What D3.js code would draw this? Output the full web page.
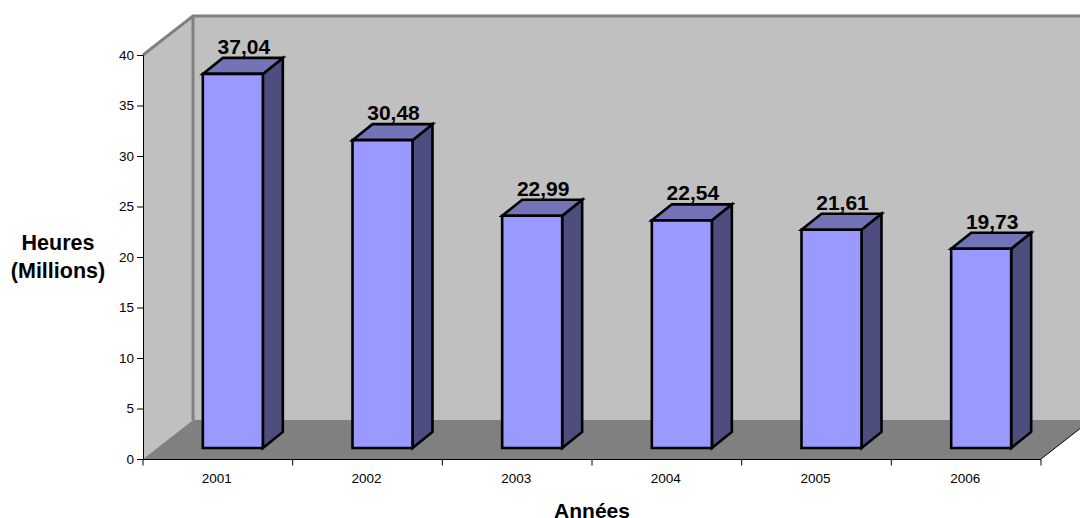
<!DOCTYPE html>
<html>
<head>
<meta charset="utf-8">
<script src="https://cdn.jsdelivr.net/npm/d3@7"></script>
<style>
html,body{margin:0;padding:0;background:#fff;overflow:hidden}
svg{display:block;font-family:"Liberation Sans",Arial,sans-serif}
</style>
</head>
<body>
<svg id="chart" width="1080" height="518"></svg>
<script>
const years = ["2001","2002","2003","2004","2005","2006"];
const hours = [37.04,30.48,22.99,22.54,21.61,19.73];
const hourLabels = ["37,04","30,48","22,99","22,54","21,61","19,73"];
const yTicks = [0,5,10,15,20,25,30,35,40];

const svg = d3.select("#chart");
const plot = {left:143, right:1041, top:55, bottom:459};
const wallDepth = {x:50, y:39};
const barDepth = {x:20, y:16};

const x = d3.scaleBand().domain(years).range([plot.left, plot.right]);
const y = d3.scaleLinear().domain([0,40]).range([plot.bottom, plot.top]);
const barWidth = 60, barShift = 15, barBase = 11;
const path = pts => "M" + pts.map(p => p.join(",")).join("L") + "Z";

// Back wall, side wall and floor of the 3D box
const g = svg.append("g");
const backX = plot.left + wallDepth.x, backTop = plot.top - wallDepth.y, backBottom = plot.bottom - wallDepth.y;
g.append("rect").attr("x",backX).attr("y",backTop).attr("width",1080-backX).attr("height",backBottom-backTop).attr("fill","#c0c0c0");
g.append("path").attr("d",path([[plot.left,plot.top],[backX,backTop],[backX,backBottom],[plot.left,plot.bottom]])).attr("fill","#c0c0c0");
g.append("path").attr("d",path([[plot.left,plot.bottom],[backX,backBottom],[plot.right+wallDepth.x,backBottom],[plot.right,plot.bottom]])).attr("fill","#808080");
g.append("path").attr("d",`M${plot.left},${plot.top}L${backX},${backTop}L1080,${backTop}M${backX},${backTop}V${backBottom}`)
  .attr("fill","none").attr("stroke","#808080").attr("stroke-width",3);
g.append("line").attr("x1",plot.right).attr("y1",plot.bottom).attr("x2",plot.right+wallDepth.x).attr("y2",backBottom).attr("stroke","#000").attr("stroke-width",1);

// Axes
const yAxis = d3.axisLeft(y).tickValues(yTicks).tickSize(6).tickPadding(3);
const yG = svg.append("g").attr("transform",`translate(${plot.left},0)`).call(yAxis);
yG.selectAll("text").attr("font-size",13.5).attr("fill","#000").attr("font-family","Liberation Sans");
yG.selectAll("line,path").attr("stroke","#000");

const xAxisLine = svg.append("g").attr("transform",`translate(0,${plot.bottom+0.5})`);
xAxisLine.append("line").attr("x1",plot.left).attr("x2",plot.right).attr("stroke","#000");
xAxisLine.selectAll("line.tick").data(d3.range(years.length+1)).join("line").attr("class","tick")
  .attr("x1",i => plot.left + i*x.bandwidth()).attr("x2",i => plot.left + i*x.bandwidth())
  .attr("y1",0).attr("y2",6).attr("stroke","#000");
xAxisLine.selectAll("text").data(years).join("text")
  .attr("x",d => x(d)+x.bandwidth()/2 - 1).attr("y",23.5)
  .attr("text-anchor","middle").attr("font-size",13.5).attr("fill","#000").text(d => d);

// Bars with front, top and side faces
const bars = svg.append("g").selectAll("g").data(years).join("g");
bars.each(function(d,i){
  const b = d3.select(this);
  const x0 = x(d)+x.bandwidth()/2+barShift-barWidth/2, x1 = x0+barWidth;
  const base = plot.bottom-barBase, top = y(hours[i])-barBase;
  const dx = barDepth.x, dy = barDepth.y;
  const face = (pts,fill) => b.append("path").attr("d",path(pts)).attr("fill",fill)
    .attr("stroke","#000").attr("stroke-width",2.6).attr("stroke-linejoin","miter");
  face([[x1,top],[x1+dx,top-dy],[x1+dx,base-dy],[x1,base]],"#4d4d80");
  face([[x0,top],[x0+dx,top-dy],[x1+dx,top-dy],[x1,top]],"#7373b8");
  face([[x0,top],[x1,top],[x1,base],[x0,base]],"#9999ff");
  b.append("text").attr("x",x0+41).attr("y",top-dy-4).attr("text-anchor","middle")
    .attr("font-size",21).attr("font-weight","bold").attr("fill","#000").text(hourLabels[i]);
});

// Axis titles
const title = svg.append("g").attr("font-size",21.5).attr("font-weight","bold").attr("fill","#000").attr("text-anchor","middle");
title.append("text").attr("x",58).attr("y",250).text("Heures");
title.append("text").attr("x",58).attr("y",277.5).text("(Millions)");
title.append("text").attr("x",592).attr("y",518).attr("font-size",21).text("Années");
</script>
</body>
</html>
